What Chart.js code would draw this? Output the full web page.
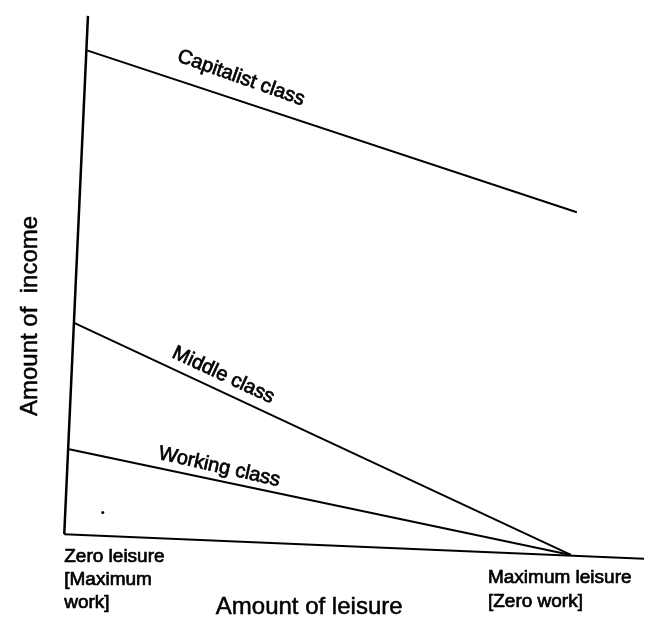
<!DOCTYPE html>
<html>
<head>
<meta charset="utf-8">
<script src="https://cdn.jsdelivr.net/npm/chart.js@4.4.1/dist/chart.umd.min.js"></script>
<style>
    html, body { margin: 0; padding: 0; background: #fff; }
    #wrap { width: 648px; height: 629px; position: relative; }
</style>
</head>
<body>
<div id="wrap"><canvas id="leisureChart"></canvas></div>
<script>
// values (leisure across, income up; origin at the axis corner)
const incomeAxis = [{ x: 24, y: 525 }, { x: 0, y: 0 }];
const leisureAxis = [{ x: 0, y: 0 }, { x: 587, y: -25 }];
const capitalistClass = [{ x: 23, y: 490 }, { x: 519, y: 326 }];
const middleClass = [{ x: 10, y: 214 }, { x: 513, y: -21 }];
const workingClass = [{ x: 5, y: 86 }, { x: 513, y: -21 }];
const strayDot = [{ x: 39, y: 22 }];

const lineLabels = [
    { text: 'Capitalist class', x: 179, y: 462, angle: 19.5 },
    { text: 'Middle class', x: 161, y: 161, angle: 25 },
    { text: 'Working class', x: 157, y: 68, angle: 12.8 }
];
const tickLabels = [
    { lines: ['Zero leisure', '[Maximum', 'work]'], x: 0, y: -23, step: 23 },
    { lines: ['Maximum leisure', '[Zero work]'], x: 429, y: -44, step: 24 }
];

const FONT = '"Liberation Sans", Arial, Helvetica, sans-serif';

// the scan's type is a bit heavier than plain regular weight
function inkText(ctx, text, px, py) {
    ctx.fillText(text, px, py);
    ctx.strokeText(text, px, py);
}

const textPlugin = {
    id: 'diagramText',
    afterDatasetsDraw(chart) {
        const { ctx, scales: { x, y } } = chart;
        ctx.save();
        ctx.fillStyle = '#000';
        ctx.strokeStyle = '#000';
        ctx.lineWidth = 0.7;
        ctx.textBaseline = 'middle';

        ctx.font = '20px ' + FONT;
        ctx.textAlign = 'center';
        lineLabels.forEach(l => {
            ctx.save();
            ctx.translate(x.getPixelForValue(l.x), y.getPixelForValue(l.y));
            ctx.rotate(l.angle * Math.PI / 180);
            inkText(ctx, l.text, 0, 0);
            ctx.restore();
        });

        ctx.font = '19px ' + FONT;
        ctx.textAlign = 'left';
        tickLabels.forEach(t => {
            const px = x.getPixelForValue(t.x);
            const py = y.getPixelForValue(t.y);
            t.lines.forEach((line, i) => inkText(ctx, line, px, py + i * t.step));
        });

        // axis titles
        ctx.font = '24px ' + FONT;
        ctx.textAlign = 'center';
        ctx.lineWidth = 0.5;
        inkText(ctx, 'Amount of leisure', x.getPixelForValue(248), y.getPixelForValue(-74));
        ctx.save();
        ctx.translate(x.getPixelForValue(-34), y.getPixelForValue(221));
        ctx.rotate(-Math.PI / 2);
        inkText(ctx, 'Amount of  income', 0, 0);
        ctx.restore();

        ctx.restore();
    }
};

const lineSet = (data, width) => ({
    data: data,
    showLine: true,
    borderColor: '#000',
    borderWidth: width,
    pointRadius: 0,
    clip: false
});

new Chart(document.getElementById('leisureChart'), {
    type: 'scatter',
    data: {
        datasets: [
            lineSet(incomeAxis, 2.5),
            lineSet(leisureAxis, 2),
            lineSet(capitalistClass, 2),
            lineSet(middleClass, 2),
            lineSet(workingClass, 2),
            {
                data: strayDot,
                pointRadius: 1.5,
                backgroundColor: '#000',
                borderWidth: 0
            }
        ]
    },
    options: {
        responsive: true,
        maintainAspectRatio: false,
        animation: false,
        layout: { padding: 0 },
        scales: {
            x: { type: 'linear', min: -61, max: 587, display: false },
            y: { type: 'linear', min: -92, max: 537, display: false }
        },
        plugins: {
            legend: { display: false },
            tooltip: { enabled: false }
        }
    },
    plugins: [textPlugin]
});
</script>
</body>
</html>
